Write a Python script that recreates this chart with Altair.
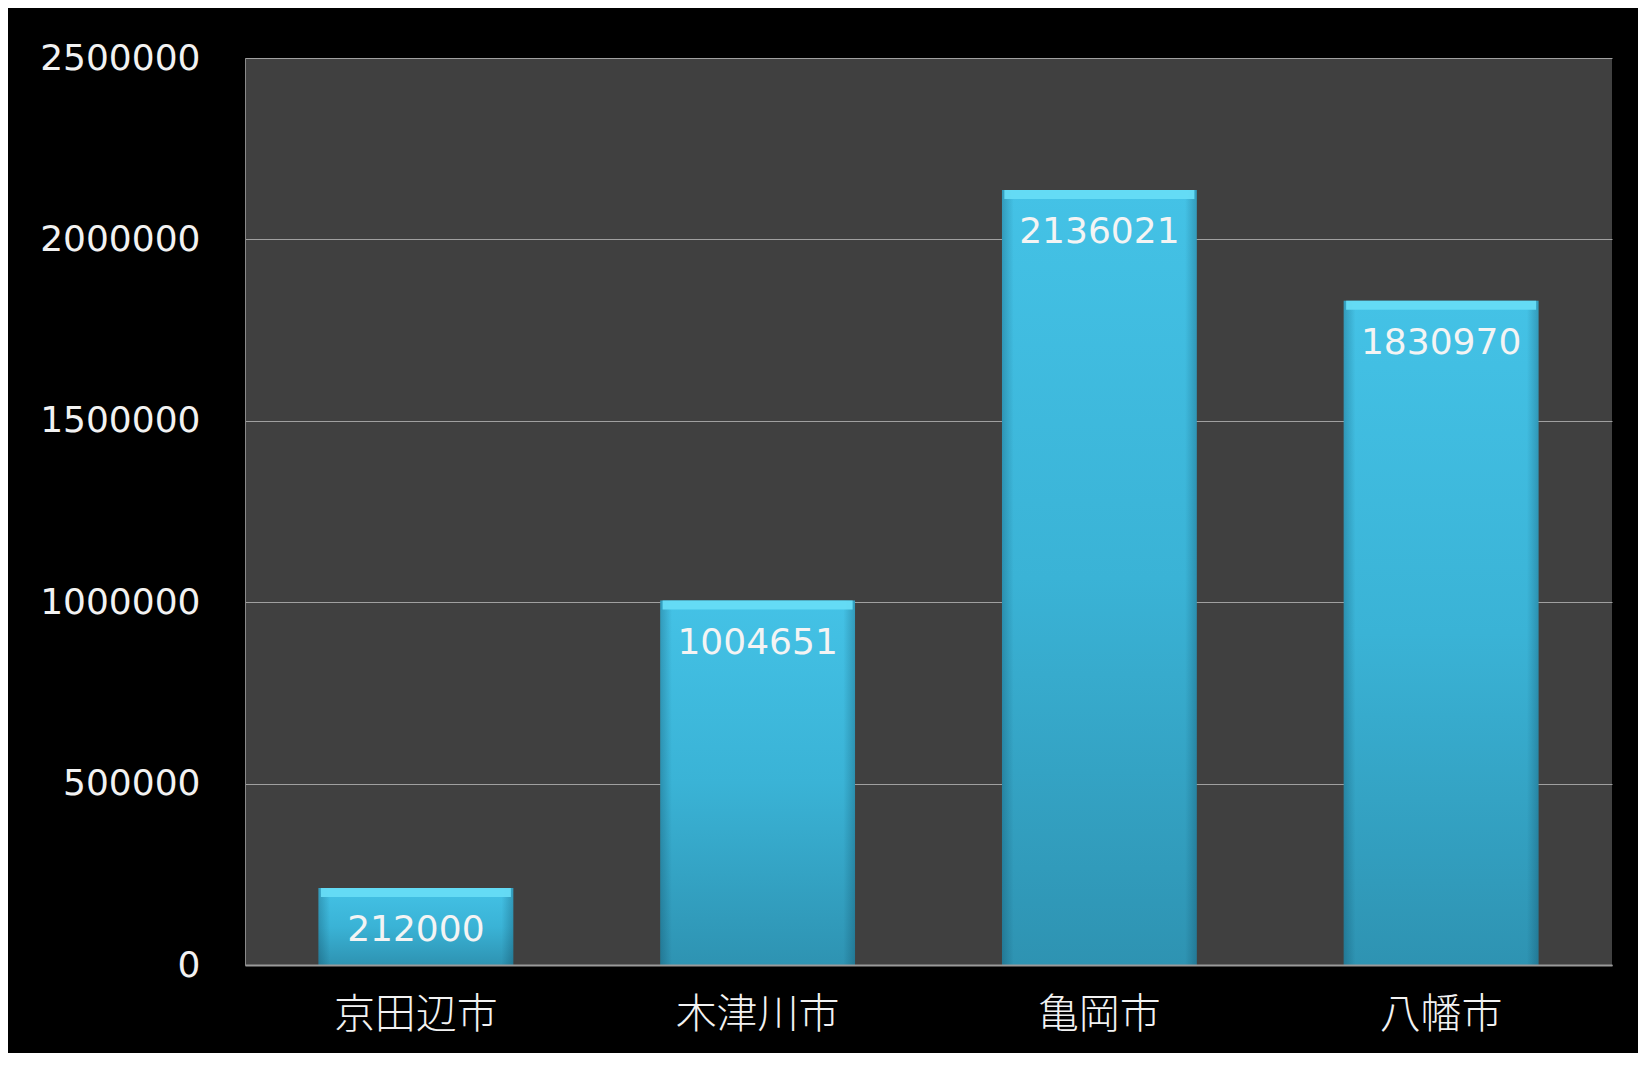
import altair as alt
import pandas as pd

cities = ["京田辺市", "木津川市", "亀岡市", "八幡市"]
values = [212000, 1004651, 2136021, 1830970]
y_ticks = [0, 500000, 1000000, 1500000, 2000000, 2500000]

df = pd.DataFrame({"city": cities, "value": values})

num_font = "DejaVu Sans"
cjk_font = "Noto Sans CJK JP"

x_enc = alt.X("city:N", sort=cities,
              scale=alt.Scale(paddingInner=0.43, paddingOuter=0.215),
              axis=alt.Axis(title=None, labelAngle=0, labelFont=cjk_font, labelFontSize=41,
                            labelFontWeight=300,
                            labelColor="#f2f2f2", labelPadding=30, ticks=False, tickSize=0,
                            domainColor="#9a9a9a", domainWidth=2, grid=False, zindex=1))
y_enc = alt.Y("value:Q", scale=alt.Scale(domain=[0, 2500000], nice=False),
              axis=alt.Axis(title=None, values=y_ticks, format="d", labelFont=num_font,
                            labelFontSize=36, labelColor="#f2f2f2", labelPadding=45,
                            ticks=False, tickSize=0, domainColor="#8a8a8a", domainWidth=1,
                            gridColor="#a0a0a0", gridWidth=1))

base = alt.Chart(df).encode(x=x_enc, y=y_enc)

bars = base.mark_bar(
    color=alt.Gradient(
        gradient="linear", x1=0, x2=0, y1=0, y2=1,
        stops=[alt.GradientStop(color="#44c2e6", offset=0),
               alt.GradientStop(color="#3ab3d6", offset=0.5),
               alt.GradientStop(color="#2e93b2", offset=1)]
    )
)

edges = base.mark_bar(
    color=alt.Gradient(
        gradient="linear", x1=0, x2=1, y1=0, y2=0,
        stops=[alt.GradientStop(color="rgba(0,40,60,0.25)", offset=0),
               alt.GradientStop(color="rgba(0,40,60,0)", offset=0.06),
               alt.GradientStop(color="rgba(0,40,60,0)", offset=0.94),
               alt.GradientStop(color="rgba(0,40,60,0.25)", offset=1)]
    )
)

bevel = base.mark_tick(color="#66dcf6", thickness=9, size=190, yOffset=4.5, opacity=0.95)

labels = base.mark_text(dy=42, baseline="middle", align="center", font=num_font,
                        fontSize=36, color="#f4f4f4").encode(text=alt.Text("value:Q", format="d"))

chart = alt.layer(bars, edges, bevel, labels).properties(
    width=1367, height=907,
    autosize=alt.AutoSizeParams(type="none"),
    padding={"left": 237, "top": 50, "right": 26, "bottom": 88},
    background="#000000",
).configure_view(fill="#404040", strokeWidth=0)

chart.save("out.html", embed_options={"renderer": "svg", "actions": False})
